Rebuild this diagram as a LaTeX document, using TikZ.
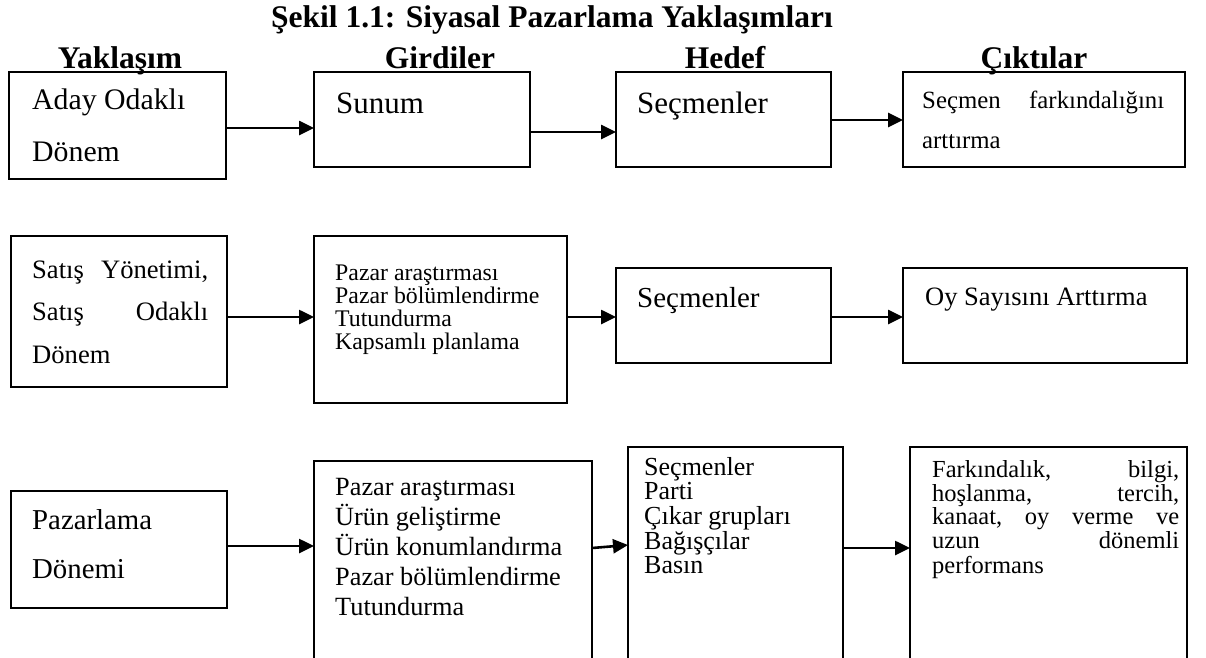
\documentclass[tikz,border=0pt]{standalone}
\usepackage{fontspec}
\setmainfont{Liberation Serif}
\usetikzlibrary{arrows.meta}
\newcommand{\fsz}[2]{\fontsize{#1}{#2}\selectfont}
\newcommand{\lines}[1]{\begin{tabular}[t]{@{}l@{}}#1\end{tabular}}

\begin{document}
\begin{tikzpicture}[x=1pt,y=-1pt,
  box/.style={draw, line width=1.6pt, anchor=north west, inner sep=0pt, outer sep=0pt},
  arr/.style={line width=2.6pt, -{Triangle[length=15pt,width=14pt]}},
  head/.style={anchor=base, inner sep=0pt, font=\bfseries\fsz{31.5}{36}},
  txt/.style={anchor=base west, inner sep=0pt}]

\useasboundingbox (0,0) rectangle (1206,657);
\clip (0,0) rectangle (1206,657);

% title and column headings
\node[head] (title) at (552,27) {Şekil 1.1: Siyasal Pazarlama Yaklaşımları};
\node[head] (h1) at (120,68) {Yaklaşım};
\node[head] (h2) at (440,68) {Girdiler};
\node[head] (h3) at (725,68) {Hedef};
\node[head] (h4) at (1034,68) {Çıktılar};

% row 1
\node[box, minimum width=217pt, minimum height=107pt] (a1) at (9,72) {};
\node[box, minimum width=216pt, minimum height=95pt] (b1) at (314,72) {};
\node[box, minimum width=215pt, minimum height=95pt] (c1) at (616,72) {};
\node[box, minimum width=282pt, minimum height=95pt] (d1) at (903,72) {};

\node[txt, font=\fsz{29.8}{52}] (a1t) at (32,109) {\lines{Aday Odaklı\\Dönem}};
\node[txt, font=\fsz{31}{36}] (b1t) at (336,113) {Sunum};
\node[txt, font=\fsz{31}{36}] (c1t) at (637,113) {Seçmenler};
\node[txt, font=\fsz{24.8}{40}] (d1t) at (922,108)
  {\lines{\makebox[242pt][l]{Seçmen\hfill farkındalığını}\\arttırma}};

\coordinate (r1a) at (0,128);
\coordinate (r1b) at (0,132);
\coordinate (r1c) at (0,120);
\draw[arr] (a1.east |- r1a) -- (b1.west |- r1a);
\draw[arr] (b1.east |- r1b) -- (c1.west |- r1b);
\draw[arr] (c1.east |- r1c) -- (d1.west |- r1c);

% row 2
\node[box, minimum width=216pt, minimum height=151pt] (a2) at (11,236) {};
\node[box, minimum width=253pt, minimum height=167pt] (b2) at (314,236) {};
\node[box, minimum width=215pt, minimum height=95pt] (c2) at (616,268) {};
\node[box, minimum width=284pt, minimum height=95pt] (d2) at (903,268) {};

\node[txt, font=\fsz{26.6}{42.5}] (a2t) at (32,278)
  {\lines{\makebox[176pt][l]{Satış\hfill Yönetimi,}\\
          \makebox[176pt][l]{Satış\hfill Odaklı}\\Dönem}};
\node[txt, font=\fsz{23.8}{21.7}] (b2t) at (335,280)
  {\lines{Pazar araştırması\\Pazar bölümlendirme\\Tutundurma\\Kapsamlı planlama}};
\node[txt, font=\fsz{29}{34}] (c2t) at (637,307) {Seçmenler};
\node[txt, font=\fsz{26.5}{30}] (d2t) at (925,305) {Oy Sayısını Arttırma};

\coordinate (r2) at (0,317);
\draw[arr] (a2.east |- r2) -- (b2.west |- r2);
\draw[arr] (b2.east |- r2) -- (c2.west |- r2);
\draw[arr] (c2.east |- r2) -- (d2.west |- r2);

% row 3 (the lower boxes run past the bottom edge)
\node[box, minimum width=216pt, minimum height=117pt] (a3) at (11,491) {};
\node[box, minimum width=278pt, minimum height=230pt] (b3) at (314,461) {};
\node[box, minimum width=215pt, minimum height=240pt] (c3) at (628,447) {};
\node[box, minimum width=277pt, minimum height=240pt] (d3) at (910,447) {};

\node[txt, font=\fsz{28.8}{49}] (a3t) at (32,529) {\lines{Pazarlama\\Dönemi}};
\node[txt, font=\fsz{26.3}{30}] (b3t) at (335,495)
  {\lines{Pazar araştırması\\Ürün geliştirme\\Ürün konumlandırma\\Pazar bölümlendirme\\Tutundurma}};
\node[txt, font=\fsz{26}{23.3}] (c3t) at (644,475)
  {\lines{Seçmenler\\Parti\\Çıkar grupları\\Bağışçılar\\Basın}};
\node[txt, font=\fsz{24.5}{23.3}] (d3t) at (932,477)
  {\lines{\makebox[247pt][l]{Farkındalık,\hfill bilgi,}\\
          \makebox[247pt][l]{hoşlanma,\hfill tercih,}\\
          \makebox[247pt][l]{kanaat,\hfill oy\hfill verme\hfill ve}\\
          \makebox[247pt][l]{uzun\hfill dönemli}\\performans}};

\coordinate (r3a) at (0,546);
\coordinate (r3b) at (0,548);
\coordinate (r3c) at (0,545);
\draw[arr] (a3.east |- r3a) -- (b3.west |- r3a);
\draw[arr] (b3.east |- r3b) -- (c3.west |- r3c);
\draw[arr] (c3.east |- r3b) -- (d3.west |- r3b);
\end{tikzpicture}
\end{document}
